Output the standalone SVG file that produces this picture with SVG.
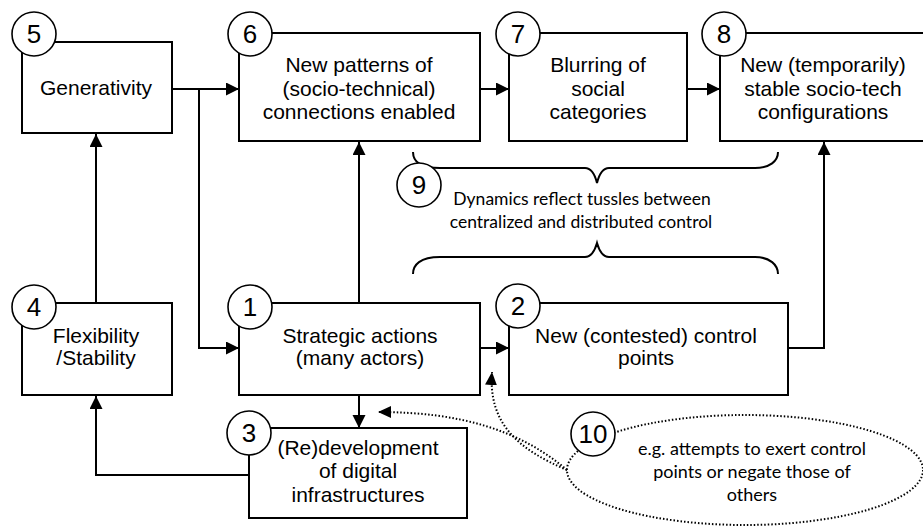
<svg xmlns="http://www.w3.org/2000/svg" width="923" height="527" viewBox="0 0 923 527">
<defs>
<marker id="ah" markerUnits="userSpaceOnUse" markerWidth="14" markerHeight="14" refX="13" refY="6.5" orient="auto">
<path d="M0,0 L13,6.5 L0,13 z" fill="#000"/>
</marker>
<marker id="ahd" markerUnits="userSpaceOnUse" markerWidth="14" markerHeight="14" refX="13" refY="6" orient="auto">
<path d="M0,0 L13,6 L0,12 z" fill="#000"/>
</marker>
</defs>
<style>
.box{fill:#fff;stroke:#000;stroke-width:2}
.num{fill:#fff;stroke:#000;stroke-width:1.6}
.nt{font-family:"Liberation Sans",Arial,sans-serif;font-size:26px;text-anchor:middle;fill:#000}
.t{font-family:"Liberation Sans",Arial,sans-serif;font-size:21px;text-anchor:middle;fill:#000}
.c{font-family:Lato,"Open Sans",sans-serif;font-size:17.5px;text-anchor:middle;fill:#000}
.c2{font-family:Lato,"Open Sans",sans-serif;font-size:18px;text-anchor:middle;fill:#000}
.ln{fill:none;stroke:#000;stroke-width:2}
.dot{fill:none;stroke:#000;stroke-width:2;stroke-dasharray:1.5 2}
</style>
<rect width="923" height="527" fill="#fff"/>
<g id="connectors">
<path class="ln" d="M172,89 L239,89" marker-end="url(#ah)"/>
<path class="ln" d="M199,89 L199,348 L239,348" marker-end="url(#ah)"/>
<path class="ln" d="M480,89 L509,89" marker-end="url(#ah)"/>
<path class="ln" d="M687,89 L720,89" marker-end="url(#ah)"/>
<path class="ln" d="M96,303 L96,134" marker-end="url(#ah)"/>
<path class="ln" d="M359,303 L359,142" marker-end="url(#ah)"/>
<path class="ln" d="M359,395 L359,428" marker-end="url(#ah)"/>
<path class="ln" d="M480,348 L509,348" marker-end="url(#ah)"/>
<path class="ln" d="M788,348 L824,348 L824,142" marker-end="url(#ah)"/>
<path class="ln" d="M249,475 L96,475 L96,396" marker-end="url(#ah)"/>
<path class="dot" d="M567,470 C520,430 460,412 378,412" marker-end="url(#ahd)"/>
<path class="dot" d="M567,470 C520,450 488,425 492,372" marker-end="url(#ahd)"/>
</g>
<g id="n5"><rect class="box" x="22" y="42" width="150" height="91"/><circle class="num" cx="34" cy="34" r="22"/><text class="nt" x="34" y="43">5</text><text class="t" x="96" y="95">Generativity</text></g>
<g id="n6"><rect class="box" x="239" y="33" width="241" height="108"/><circle class="num" cx="250" cy="34" r="22"/><text class="nt" x="250" y="43">6</text><text class="t" x="359" y="72">New patterns of</text><text class="t" x="359" y="96">(socio-technical)</text><text class="t" x="359" y="119">connections enabled</text></g>
<g id="n7"><rect class="box" x="509" y="33" width="178" height="108"/><circle class="num" cx="518" cy="34" r="22"/><text class="nt" x="518" y="43">7</text><text class="t" x="598" y="72">Blurring of</text><text class="t" x="598" y="96">social</text><text class="t" x="598" y="119">categories</text></g>
<g id="n8"><rect class="box" x="720" y="33" width="215" height="108"/><circle class="num" cx="724" cy="34" r="22"/><text class="nt" x="724" y="43">8</text><text class="t" x="823" y="72">New (temporarily)</text><text class="t" x="823" y="96">stable socio-tech</text><text class="t" x="823" y="119">configurations</text></g>
<g id="n9"><path class="ln" d="M413,152 C413,161 420,168 440,168 L585,168 C592,168 595,175 597,183 C599,175 602,168 609,168 L755,168 C770,168 778,161 778,152"/><path class="ln" d="M413,274 C413,265 420,257 440,257 L585,257 C592,257 595,250 597,243 C599,250 602,257 609,257 L755,257 C770,257 778,265 778,274"/><circle class="num" cx="419" cy="185" r="22"/><text class="nt" x="419" y="194">9</text><text class="c" x="582" y="205">Dynamics reflect tussles between</text><text class="c" x="581" y="228">centralized and distributed control</text></g>
<g id="n4"><rect class="box" x="22" y="303" width="150" height="92"/><circle class="num" cx="34" cy="307" r="22"/><text class="nt" x="34" y="316">4</text><text class="t" x="96" y="343">Flexibility</text><text class="t" x="96" y="365">/Stability</text></g>
<g id="n1"><rect class="box" x="239" y="303" width="241" height="92"/><circle class="num" cx="250" cy="307" r="22"/><text class="nt" x="250" y="316">1</text><text class="t" x="360" y="343">Strategic actions</text><text class="t" x="360" y="365">(many actors)</text></g>
<g id="n2"><rect class="box" x="509" y="303" width="279" height="92"/><circle class="num" cx="518" cy="306" r="22"/><text class="nt" x="518" y="315">2</text><text class="t" x="646" y="343">New (contested) control</text><text class="t" x="646" y="365">points</text></g>
<g id="n3"><rect class="box" x="249" y="428" width="218" height="90"/><circle class="num" cx="249" cy="433" r="22"/><text class="nt" x="249" y="442">3</text><text class="t" x="358" y="455">(Re)development</text><text class="t" x="358" y="478">of digital</text><text class="t" x="358" y="502">infrastructures</text></g>
<g id="n10"><ellipse class="dot" cx="745" cy="470" rx="178" ry="55"/><circle class="num" cx="593" cy="434" r="22"/><text class="nt" x="593" y="443">10</text><text class="c2" x="752" y="455">e.g. attempts to exert control</text><text class="c2" x="752" y="478">points or negate those of</text><text class="c2" x="752" y="501">others</text></g>
</svg>
